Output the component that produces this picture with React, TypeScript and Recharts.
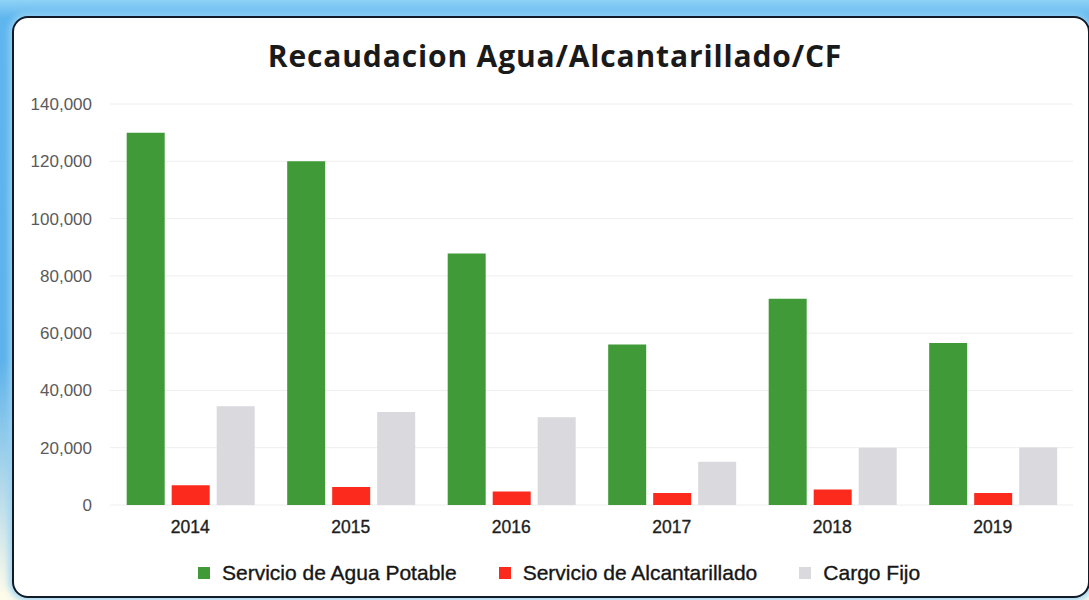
import React from 'react';
import { BarChart, Bar, XAxis, YAxis, CartesianGrid, Legend } from 'recharts';

const years = ['2014', '2015', '2016', '2017', '2018', '2019'];
const aguaPotable = [130000, 120000, 87800, 56000, 72000, 56600];
const alcantarillado = [6900, 6300, 4700, 4200, 5400, 4200];
const cargoFijo = [34500, 32500, 30600, 15100, 20000, 20100];
const yTicks = [0, 20000, 40000, 60000, 80000, 100000, 120000, 140000];
const seriesNames = ['Servicio de Agua Potable', 'Servicio de Alcantarillado', 'Cargo Fijo'];
const seriesColors = ['#3f9a37', '#fb2a1c', '#d9d9de'];
const title = 'Recaudacion Agua/Alcantarillado/CF';

const data = years.map((y, i) => ({
  year: y,
  agua: aguaPotable[i],
  alc: alcantarillado[i],
  cf: cargoFijo[i],
}));

const fmt = (v: number) => v.toLocaleString('en-US');

const LegendContent = (props: any) => {
  const payload = [...(props.payload || [])].sort(
    (a: any, b: any) => seriesNames.indexOf(a.value) - seriesNames.indexOf(b.value)
  );
  return (
    <div style={{ display: 'flex', alignItems: 'center', height: 26 }}>
      {payload.map((p: any, i: number) => (
        <div key={i} style={{ display: 'flex', alignItems: 'center', marginRight: 42 }}>
          <span style={{ width: 12, height: 12, background: p.color, display: 'inline-block', marginRight: 12 }} />
          <span
            style={{
              fontFamily: '"Liberation Sans", Arial, sans-serif',
              fontSize: 21,
              color: '#161616',
              lineHeight: '26px',
              WebkitTextStroke: '0.35px #161616',
            }}
          >
            {p.value}
          </span>
        </div>
      ))}
    </div>
  );
};

export default function App() {
  return (
    <div
      style={{
        position: 'absolute',
        left: 0,
        top: 0,
        width: 1089,
        height: 600,
        overflow: 'hidden',
        background: 'linear-gradient(180deg, #8fd2f6 0%, #5fb6ee 3%, #5cb2ea 60%, #fdfbea 99%)',
      }}
    >
      <div
        style={{
          position: 'absolute',
          left: 12,
          top: 16,
          width: 1078,
          height: 582,
          boxSizing: 'border-box',
          border: '2px solid #121a28',
          borderRadius: 16,
          background: '#ffffff',
          boxShadow: '0 0 6px 3px rgba(150,210,245,0.9)',
        }}
      />
      <div
        style={{
          position: 'absolute',
          left: 0,
          top: 41,
          width: 1110,
          textAlign: 'center',
          fontFamily: '"Open Sans", Lato, sans-serif',
          fontWeight: 700,
          fontSize: 30,
          lineHeight: '30px',
          letterSpacing: '0.85px',
          color: '#1a1a1a',
        }}
      >
        {title}
      </div>
      <div style={{ position: 'absolute', left: 0, top: 0 }}>
        <BarChart
          width={1089}
          height={600}
          data={data}
          margin={{ top: 104, right: 16, bottom: 65, left: 10 }}
          barCategoryGap="10.4%"
          barGap={7}
        >
          <CartesianGrid horizontal={true} vertical={false} stroke="#eeeeee" />
          <XAxis
            dataKey="year"
            axisLine={false}
            tickLine={false}
            tickMargin={10}
            height={30}
            tick={{ fill: '#1e1e1e', fontSize: 17.5, fontFamily: '"Liberation Sans", Arial, sans-serif', stroke: '#1e1e1e', strokeWidth: 0.35 }}
          />
          <YAxis
            domain={[0, 140000]}
            ticks={yTicks}
            tickFormatter={fmt}
            axisLine={false}
            tickLine={false}
            tickMargin={12}
            width={100}
            tick={{ fill: '#5a5a5a', fontSize: 17, fontFamily: '"Liberation Sans", Arial, sans-serif' }}
          />
          <Legend
            layout="horizontal"
            verticalAlign="middle"
            align="center"
            wrapperStyle={{ top: 560, left: 198, width: 860, height: 26 }}
            content={LegendContent}
          />
          <Bar dataKey="agua" name={seriesNames[0]} fill={seriesColors[0]} isAnimationActive={false} />
          <Bar dataKey="alc" name={seriesNames[1]} fill={seriesColors[1]} isAnimationActive={false} />
          <Bar dataKey="cf" name={seriesNames[2]} fill={seriesColors[2]} isAnimationActive={false} />
        </BarChart>
      </div>
    </div>
  );
}
